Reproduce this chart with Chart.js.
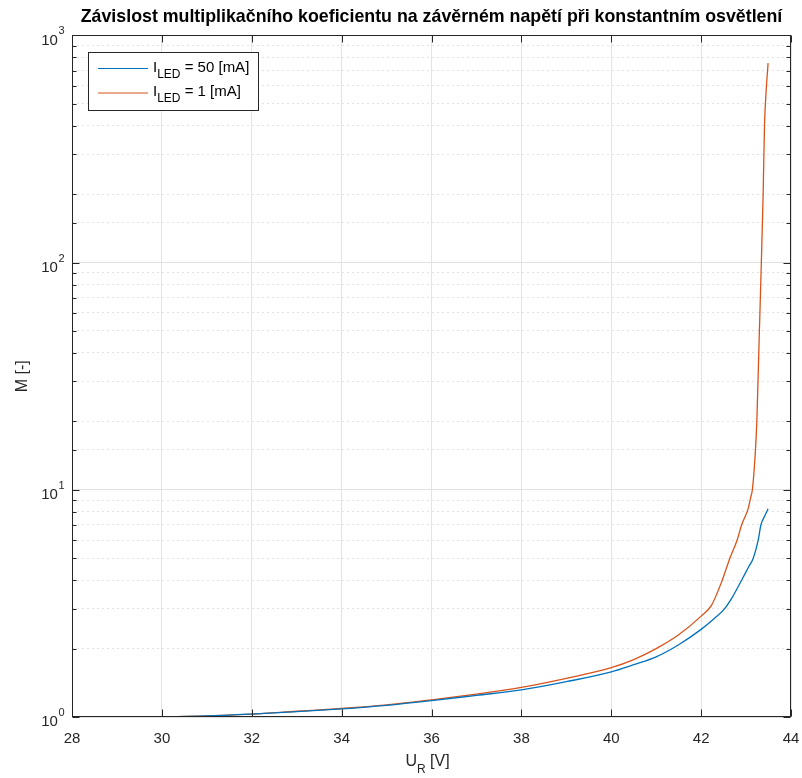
<!DOCTYPE html>
<html>
<head>
<meta charset="utf-8">
<script src="https://cdn.jsdelivr.net/npm/chart.js@4"></script>
<style>
  html, body { margin: 0; padding: 0; background: #fff; }
  #wrap { width: 802px; height: 778px; position: relative; }
</style>
</head>
<body>
<div id="wrap"><canvas id="chart"></canvas></div>
<script>
// U_R [V] and M [-]
const uR50 = [30, 31, 32, 33, 34, 35, 36, 37, 38, 39, 40, 40.5, 41, 41.5, 42, 42.3, 42.5, 42.7, 42.9, 43.05, 43.16, 43.27, 43.33, 43.42, 43.49];
const m50  = [1.0, 1.01, 1.03, 1.055, 1.085, 1.125, 1.18, 1.245, 1.315, 1.43, 1.58, 1.7, 1.84, 2.08, 2.43, 2.72, 2.96, 3.38, 4.0, 4.55, 5.0, 6.0, 7.0, 7.7, 8.26];

const uR1 = [30, 31, 32, 33, 34, 35, 36, 37, 38, 39, 40, 40.5, 41, 41.5, 42, 42.23, 42.47, 42.64, 42.8, 42.9, 43.05, 43.1, 43.14, 43.2, 43.24, 43.29, 43.34, 43.38, 43.41, 43.44, 43.49];
const m1  = [1.0, 1.01, 1.03, 1.06, 1.09, 1.13, 1.19, 1.26, 1.35, 1.48, 1.65, 1.79, 2.0, 2.3, 2.78, 3.1, 4.0, 5.0, 6.0, 7.0, 8.3, 9.2, 10, 14, 20, 45, 100, 200, 400, 540, 755];

const seriesNames = ['= 50 [mA]', '= 1 [mA]'];
const seriesColors = ['#0072bd', '#d95319'];
const xTicks = [28, 30, 32, 34, 36, 38, 40, 42, 44];
const yMajor = [1, 10, 100, 1000];

const axisColor = '#262626';
const fontFam = '"Liberation Sans", Arial, sans-serif';

const toPoints = (xs, ys) => xs.map((v, i) => ({ x: v, y: ys[i] }));
const isMajor = v => yMajor.some(m => Math.abs(m - v) < 1e-6 * m);

function line(ctx, x1, y1, x2, y2) {
  ctx.beginPath();
  ctx.moveTo(x1, y1);
  ctx.lineTo(x2, y2);
  ctx.stroke();
}

// axes box, inward ticks, 10^n labels, x title, legend
const matlabAxes = {
  id: 'matlabAxes',
  afterDraw(chart) {
    const { ctx, chartArea: a, scales: { x, y } } = chart;
    ctx.save();
    ctx.strokeStyle = axisColor;
    ctx.lineWidth = 1;
    const L = Math.round(a.left) + 0.5, R = Math.round(a.right) - 0.5;
    const T = Math.round(a.top) + 0.5, B = Math.round(a.bottom) - 0.5;
    ctx.strokeRect(L, T, R - L, B - T);

    xTicks.forEach(v => {
      const px = Math.round(x.getPixelForValue(v)) + 0.5;
      line(ctx, px, B, px, B - 7);
      line(ctx, px, T, px, T + 7);
    });
    y.ticks.forEach(t => {
      const py = Math.round(y.getPixelForValue(t.value)) + 0.5;
      const len = isMajor(t.value) ? 7 : 4;
      line(ctx, L, py, L + len, py);
      line(ctx, R, py, R - len, py);
    });

    // y labels 10^n
    ctx.fillStyle = axisColor;
    ctx.textBaseline = 'middle';
    yMajor.forEach(v => {
      const py = y.getPixelForValue(v);
      const exp = String(Math.round(Math.log10(v)));
      ctx.font = '11px ' + fontFam;
      ctx.textAlign = 'right';
      const right = L - 8;
      ctx.fillText(exp, right, py - 4);
      const ew = ctx.measureText(exp).width;
      ctx.font = '15px ' + fontFam;
      ctx.fillText('10', right - ew - 0.5, py + 5);
    });

    // x title U_R [V]
    const cx = (a.left + a.right) / 2 - 4;
    const ty = 762;
    ctx.textAlign = 'left';
    ctx.font = '16px ' + fontFam;
    const wU = ctx.measureText('U').width;
    const wV = ctx.measureText(' [V]').width;
    ctx.font = '12px ' + fontFam;
    const wR = ctx.measureText('R').width;
    let sx = cx - (wU + wR + wV) / 2;
    ctx.font = '16px ' + fontFam;
    ctx.fillText('U', sx, ty);
    ctx.font = '12px ' + fontFam;
    ctx.fillText('R', sx + wU, ty + 8);
    ctx.font = '16px ' + fontFam;
    ctx.fillText(' [V]', sx + wU + wR, ty);

    // legend
    const lx = 88.5, ly = 52.5, lw = 170, lh = 58;
    ctx.fillStyle = '#fff';
    ctx.fillRect(lx, ly, lw, lh);
    ctx.strokeStyle = axisColor;
    ctx.strokeRect(lx, ly, lw, lh);
    seriesNames.forEach((name, i) => {
      const rowY = 68.5 + i * 24.5;
      ctx.strokeStyle = seriesColors[i];
      ctx.lineWidth = 1.2;
      line(ctx, 98, rowY, 148, rowY);
      ctx.fillStyle = '#000';
      ctx.font = '15px ' + fontFam;
      ctx.fillText('I', 153, rowY - 1);
      const wI = ctx.measureText('I').width;
      ctx.font = '12px ' + fontFam;
      ctx.fillText('LED', 153 + wI, rowY + 6);
      const wL = ctx.measureText('LED').width;
      ctx.font = '15px ' + fontFam;
      ctx.fillText(' ' + name, 153 + wI + wL, rowY - 1);
    });
    ctx.restore();
  }
};

new Chart(document.getElementById('chart'), {
  type: 'line',
  data: {
    datasets: [
      {
        label: 'I_LED = 50 [mA]',
        data: toPoints(uR50, m50),
        borderColor: seriesColors[0],
        borderWidth: 1.3,
        pointRadius: 0,
        cubicInterpolationMode: 'monotone',
        fill: false
      },
      {
        label: 'I_LED = 1 [mA]',
        data: toPoints(uR1, m1),
        borderColor: seriesColors[1],
        borderWidth: 1.3,
        pointRadius: 0,
        cubicInterpolationMode: 'monotone',
        fill: false
      }
    ]
  },
  options: {
    responsive: true,
    maintainAspectRatio: false,
    animation: false,
    layout: { padding: { left: 0, right: 11, top: 0, bottom: 0 } },
    plugins: {
      legend: { display: false },
      tooltip: { enabled: false },
      title: {
        display: true,
        fullSize: false,
        text: 'Závislost multiplikačního koeficientu na závěrném napětí při konstantním osvětlení',
        color: '#000',
        font: { family: fontFam, size: 17.8, weight: 'bold' },
        padding: { top: 6, bottom: 8 }
      }
    },
    scales: {
      x: {
        type: 'linear',
        min: 28,
        max: 44,
        afterFit: scale => {
          scale.height = 61;
          scale.paddingLeft = 0;
          scale.paddingRight = 0;
        },
        afterBuildTicks: scale => { scale.ticks = xTicks.map(v => ({ value: v })); },
        ticks: {
          color: axisColor,
          font: { family: fontFam, size: 15 },
          padding: 13,
          maxRotation: 0
        },
        grid: { color: '#e3e3e3', lineWidth: 1, drawTicks: false },
        border: { display: false }
      },
      y: {
        type: 'logarithmic',
        min: 1,
        max: 1000,
        afterFit: scale => { scale.width = 72; },
        ticks: { display: false, autoSkip: false },
        grid: {
          drawTicks: false,
          lineWidth: 1,
          color: ctx => isMajor(ctx.tick.value) ? '#e0e0e0' : '#e2e2e2'
        },
        border: {
          display: false,
          dash: ctx => (ctx.tick && isMajor(ctx.tick.value)) ? [] : [2, 3]
        },
        title: {
          display: true,
          text: 'M [-]',
          color: axisColor,
          font: { family: fontFam, size: 16 },
          padding: { top: 13, bottom: 0 }
        }
      }
    }
  },
  plugins: [matlabAxes]
});
</script>
</body>
</html>
